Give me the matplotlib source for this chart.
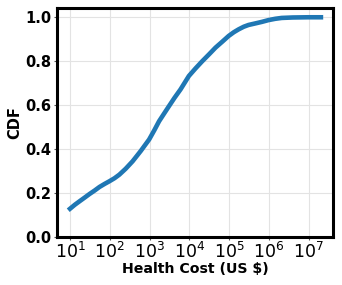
import numpy as np
from matplotlib import pyplot as plt

# CDF of health cost (log10 of cost, cumulative share)
log_cost = [1.0, 1.12, 1.24, 1.37, 1.49, 1.62, 1.74, 1.87, 1.99, 2.12, 2.24, 2.4,
            2.575, 2.78, 2.99, 3.12, 3.24, 3.37, 3.49, 3.63, 3.78, 3.99, 4.16,
            4.325, 4.5, 4.66, 4.83, 4.99, 5.12, 5.24, 5.37, 5.49, 5.66, 5.825,
            5.99, 6.16, 6.325, 6.6, 6.99, 7.31]
cdf = [0.129, 0.147, 0.163, 0.180, 0.196, 0.212, 0.228, 0.242, 0.254, 0.268,
       0.284, 0.311, 0.345, 0.392, 0.444, 0.486, 0.527, 0.563, 0.596, 0.634,
       0.672, 0.733, 0.768, 0.80, 0.832, 0.862, 0.889, 0.915, 0.932, 0.945,
       0.957, 0.965, 0.972, 0.979, 0.987, 0.993, 0.997, 0.999, 1.0, 1.0]
xticks = [10 ** k for k in range(1, 8)]

cost = np.power(10.0, log_cost)

fig, ax = plt.subplots(figsize=(3.42, 2.85), dpi=100)
ax.plot(cost, cdf, color="#1f77b4", linewidth=3.3)
ax.set_xscale("log")
ax.set_xticks(xticks)
ax.minorticks_off()
ax.set_ylim(bottom=0)
ax.set_yticks([0.0, 0.2, 0.4, 0.6, 0.8, 1.0])
ax.grid(True, color="#e3e3e3", linewidth=0.8)
ax.set_axisbelow(True)
for s in ax.spines.values():
    s.set_linewidth(2.2)
ax.tick_params(axis="x", labelsize=12.5, pad=1, length=2.5, color="#555555")
ax.tick_params(axis="y", labelsize=10.5, pad=2, length=2.5, color="#555555")
for lab in ax.get_yticklabels():
    lab.set_fontweight("bold")
ax.set_xlabel("Health Cost (US $)", fontsize=10.2, fontweight="bold", labelpad=0)
ax.set_ylabel("CDF", fontsize=10.5, fontweight="bold", labelpad=2)
fig.subplots_adjust(left=0.168, right=0.975, top=0.973, bottom=0.168)
fig.savefig("out.png")
